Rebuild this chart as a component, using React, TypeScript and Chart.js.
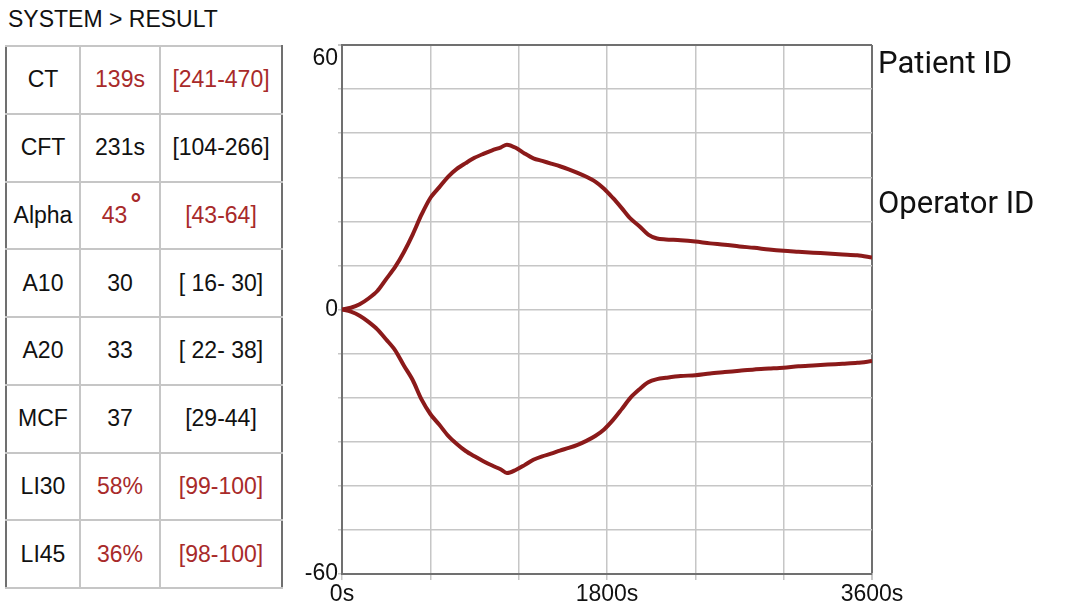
import React, { useEffect, useRef } from "react";
import { Chart, registerables } from "chart.js";

Chart.register(...registerables);

// ---- data ----
const timeSec = [0, 60, 120, 180, 240, 300, 360, 420, 480, 540, 600, 660, 720, 780, 840, 900, 960, 1020, 1080, 1120, 1180, 1240, 1300, 1360, 1420, 1480, 1540, 1600, 1660, 1720, 1780, 1840, 1900, 1960, 2020, 2080, 2140, 2200, 2300, 2400, 2500, 2600, 2700, 2800, 2900, 3000, 3100, 3200, 3300, 3400, 3500, 3600];
const upperValues = [0, 0.4, 1.2, 2.5, 4.2, 6.9, 9.6, 13.0, 17.0, 21.5, 25.3, 27.7, 30.1, 31.9, 33.2, 34.4, 35.3, 36.1, 36.8, 37.4, 36.7, 35.4, 34.3, 33.7, 33.1, 32.5, 31.8, 31.0, 30.1, 29.0, 27.4, 25.3, 23.0, 20.6, 18.9, 17.0, 16.1, 15.9, 15.7, 15.4, 15.0, 14.7, 14.3, 14.0, 13.6, 13.3, 13.1, 12.9, 12.7, 12.5, 12.3, 11.8];
const lowerValues = [0, -0.5, -1.4, -2.8, -4.5, -6.8, -9.2, -12.7, -16.0, -20.4, -23.7, -26.1, -28.6, -30.5, -32.1, -33.3, -34.4, -35.4, -36.3, -37.1, -36.4, -35.3, -34.1, -33.3, -32.7, -32.0, -31.4, -30.7, -29.8, -28.7, -27.2, -25.1, -22.6, -20.0, -18.1, -16.5, -15.8, -15.5, -15.1, -14.9, -14.5, -14.2, -13.9, -13.6, -13.4, -13.2, -12.9, -12.7, -12.5, -12.3, -12.1, -11.7];

const xTickLabels = [0, 1800, 3600];
const yTickLabels = [-60, 0, 60];

const paramNames = ["CT", "CFT", "Alpha", "A10", "A20", "MCF", "LI30", "LI45"];
const paramValues = ["139s", "231s", "43", "30", "33", "37", "58%", "36%"];
const paramRanges = ["[241-470]", "[104-266]", "[43-64]", "[ 16- 30]", "[ 22- 38]", "[29-44]", "[99-100]", "[98-100]"];
const paramAbnormal = [true, false, true, false, false, false, true, true];

const RED = "#a82a2a";
const LINE = "#8b1a1a";
const GRID = "#c6c6c6";
const DARK = "#707070";

function ChartView() {
  const ref = useRef<HTMLCanvasElement | null>(null);
  useEffect(() => {
    if (!ref.current) return;
    const chart = new Chart(ref.current, {
      type: "line",
      data: {
        datasets: [
          {
            data: timeSec.map((t, i) => ({ x: t, y: upperValues[i] })),
            borderColor: LINE,
            borderWidth: 4,
            pointRadius: 0,
            tension: 0.3,
            fill: false,
          },
          {
            data: timeSec.map((t, i) => ({ x: t, y: lowerValues[i] })),
            borderColor: LINE,
            borderWidth: 4,
            pointRadius: 0,
            tension: 0.3,
            fill: false,
          },
        ],
      },
      options: {
        animation: false,
        responsive: false,
        maintainAspectRatio: false,
        layout: { padding: { top: 10, right: 48, bottom: 0, left: 0 } },
        plugins: { legend: { display: false }, tooltip: { enabled: false } },
        scales: {
          x: {
            type: "linear",
            min: 0,
            max: 3600,
            afterFit: (s: any) => {
              s.height = 38;
              s.paddingLeft = 0;
              s.paddingRight = 0;
            },
            grid: {
              color: (c: any) => (c.tick && c.tick.value === 3600 ? DARK : GRID),
              lineWidth: (c: any) => (c.tick && c.tick.value === 3600 ? 2 : 1.5),
              tickLength: 6,
              tickColor: GRID,
            },
            border: { color: DARK, width: 2 },
            ticks: {
              stepSize: 600,
              autoSkip: false,
              maxRotation: 0,
              padding: 1,
              color: "#111",
              font: { family: "Liberation Sans", size: 23 },
              callback: (v: any) => (xTickLabels.includes(Number(v)) ? `${v}s` : ""),
            },
          },
          y: {
            min: -60,
            max: 60,
            afterFit: (s: any) => {
              s.width = 62;
              s.paddingTop = 0;
              s.paddingBottom = 0;
            },
            grid: {
              color: (c: any) => (c.tick && c.tick.value === 60 ? DARK : GRID),
              lineWidth: (c: any) => (c.tick && c.tick.value === 60 ? 2 : 1.5),
              tickLength: 4,
              tickColor: GRID,
            },
            border: { color: DARK, width: 2 },
            ticks: {
              stepSize: 10,
              autoSkip: false,
              padding: 0,
              color: "#111",
              font: { family: "Liberation Sans", size: 23 },
              callback: (v: any) => {
                const n = Number(v);
                if (!yTickLabels.includes(n)) return "";
                if (n === 60) return ["", "60"];
                return String(n);
              },
            },
          },
        },
      },
    });
    return () => chart.destroy();
  }, []);
  return (
    <canvas
      ref={ref}
      width={640}
      height={577}
      style={{ position: "absolute", left: 280, top: 35, width: 640, height: 577 }}
    />
  );
}

export default function App() {
  const cellBase: React.CSSProperties = {
    border: `2px solid ${GRID}`,
    textAlign: "center",
    verticalAlign: "middle",
    padding: 0,
    fontFamily: "Liberation Sans",
    fontSize: 23,
    whiteSpace: "nowrap",
  };
  return (
    <div
      style={{
        position: "fixed",
        left: 0,
        top: 0,
        width: 1080,
        height: 612,
        background: "#fff",
        overflow: "hidden",
      }}
    >
      <div
        style={{
          position: "absolute",
          left: 8,
          top: 8,
          fontFamily: "Liberation Sans",
          fontSize: 23,
          lineHeight: "23px",
          color: "#111",
          whiteSpace: "nowrap",
        }}
      >
        SYSTEM &gt; RESULT
      </div>
      <table
        style={{
          position: "absolute",
          left: 5,
          top: 45,
          width: 276,
          height: 542,
          borderCollapse: "collapse",
          border: `2px solid ${DARK}`,
          tableLayout: "fixed",
        }}
      >
        <colgroup>
          <col style={{ width: 74 }} />
          <col style={{ width: 80 }} />
          <col style={{ width: 122 }} />
        </colgroup>
        <tbody>
          {paramNames.map((name, i) => (
            <tr key={name} style={{ height: 67.75 }}>
              <td style={{ ...cellBase, color: "#111", borderLeft: `2px solid ${DARK}` }}>{name}</td>
              <td style={{ ...cellBase, color: paramAbnormal[i] ? RED : "#111" }}>
                {paramValues[i]}
                {name === "Alpha" ? (
                  <span style={{ position: "relative", top: -10, left: 3, fontWeight: "bold", fontSize: 27, lineHeight: "10px" }}>°</span>
                ) : null}
              </td>
              <td style={{ ...cellBase, color: paramAbnormal[i] ? RED : "#111", borderRight: `2px solid ${DARK}` }}>
                {paramRanges[i]}
              </td>
            </tr>
          ))}
        </tbody>
      </table>
      <ChartView />
      <div
        style={{
          position: "absolute",
          left: 878,
          top: 47,
          fontFamily: "Roboto",
          fontSize: 31,
          lineHeight: "31px",
          color: "#111",
          whiteSpace: "nowrap",
        }}
      >
        Patient ID
      </div>
      <div
        style={{
          position: "absolute",
          left: 878,
          top: 187,
          fontFamily: "Roboto",
          fontSize: 31,
          lineHeight: "31px",
          color: "#111",
          whiteSpace: "nowrap",
        }}
      >
        Operator ID
      </div>
    </div>
  );
}
